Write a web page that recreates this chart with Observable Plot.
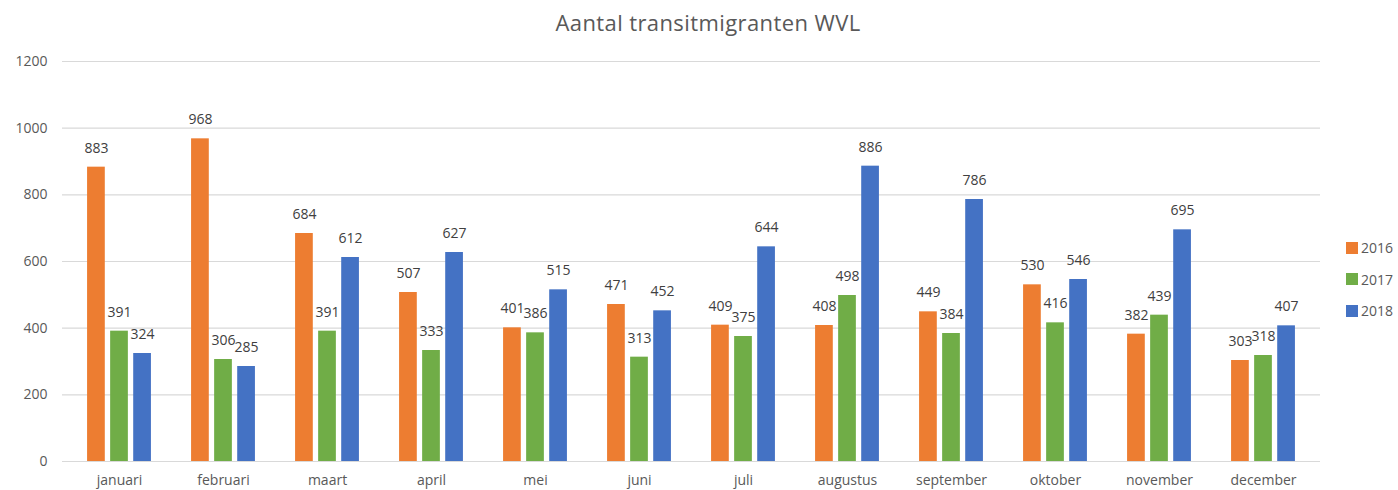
<!DOCTYPE html>
<html>
<head>
<meta charset="utf-8">
<script src="https://cdn.jsdelivr.net/npm/d3@7"></script>
<script src="https://cdn.jsdelivr.net/npm/@observablehq/plot@0.6"></script>
<style>
  html, body { margin: 0; padding: 0; background: #fff; }
  #wrap { position: relative; width: 1398px; height: 490px; overflow: hidden; font-family: "Open Sans", sans-serif; }
  #title { height: 45px; line-height: 45px; text-align: center; font-size: 22px; letter-spacing: 0.4px; color: #595959; padding-left: 18px; }
  #legend { position: absolute; left: 1346px; top: 232px; font-size: 14px; color: #595959; }
  #legend .item { display: flex; align-items: center; height: 31.5px; }
  #legend .sw { width: 12px; height: 12px; margin-right: 3px; }
</style>
</head>
<body>
<div id="wrap">
  <div id="title">Aantal transitmigranten WVL</div>
  <div id="chart"></div>
  <div id="legend"></div>
</div>
<script>
const months = ["januari","februari","maart","april","mei","juni","juli","augustus","september","oktober","november","december"];
const years = ["2016","2017","2018"];
const values2016 = [883, 968, 684, 507, 401, 471, 409, 408, 449, 530, 382, 303];
const values2017 = [391, 306, 391, 333, 386, 313, 375, 498, 384, 416, 439, 318];
const values2018 = [324, 285, 612, 627, 515, 452, 644, 886, 786, 546, 695, 407];
const yTicks = [0, 200, 400, 600, 800, 1000, 1200];
const colors = ["#ED7D31", "#70AD47", "#4472C4"];

const series = [values2016, values2017, values2018];
const data = [];
years.forEach((y, i) => months.forEach((m, j) => data.push({year: y, month: m, value: series[i][j]})));

const W = 1398, H = 445;
const mL = 62, mR = 78;
const bandW = (W - mL - mR) / months.length;
const step = bandW * 0.22;
const barW = bandW * 0.177;
const inset = (bandW - barW) / 2;

const marks = [
  Plot.ruleY(yTicks, {stroke: "#d9d9d9", strokeWidth: 1.2}),
  Plot.axisY(yTicks, {tickSize: 0, tickPadding: 15, fontSize: 14, fill: "#595959", tickFormat: d => String(d)}),
  Plot.axisX({tickSize: 0, tickPadding: 14, fontSize: 14, fill: "#595959"})
];
years.forEach((y, i) => {
  const sub = data.filter(d => d.year === y);
  marks.push(Plot.barY(sub, {x: "month", y: "value", fill: colors[i], insetLeft: inset, insetRight: inset, dx: (i - 1) * step}));
  marks.push(Plot.text(sub, {x: "month", y: "value", text: d => String(d.value), dx: (i - 1) * step, dy: -19, fontSize: 14, fill: "#404040"}));
});

const chart = Plot.plot({
  width: W,
  height: H,
  marginLeft: mL,
  marginRight: mR,
  marginTop: 16,
  marginBottom: 29,
  style: {fontFamily: "'Open Sans', sans-serif", background: "#fff"},
  x: {domain: months, padding: 0, label: null},
  y: {domain: [0, 1200], label: null},
  marks
});
document.getElementById("chart").appendChild(chart);

const legend = document.getElementById("legend");
years.forEach((y, i) => {
  const it = document.createElement("div");
  it.className = "item";
  it.innerHTML = `<span class="sw" style="background:${colors[i]}"></span><span>${y}</span>`;
  legend.appendChild(it);
});
</script>
</body>
</html>
